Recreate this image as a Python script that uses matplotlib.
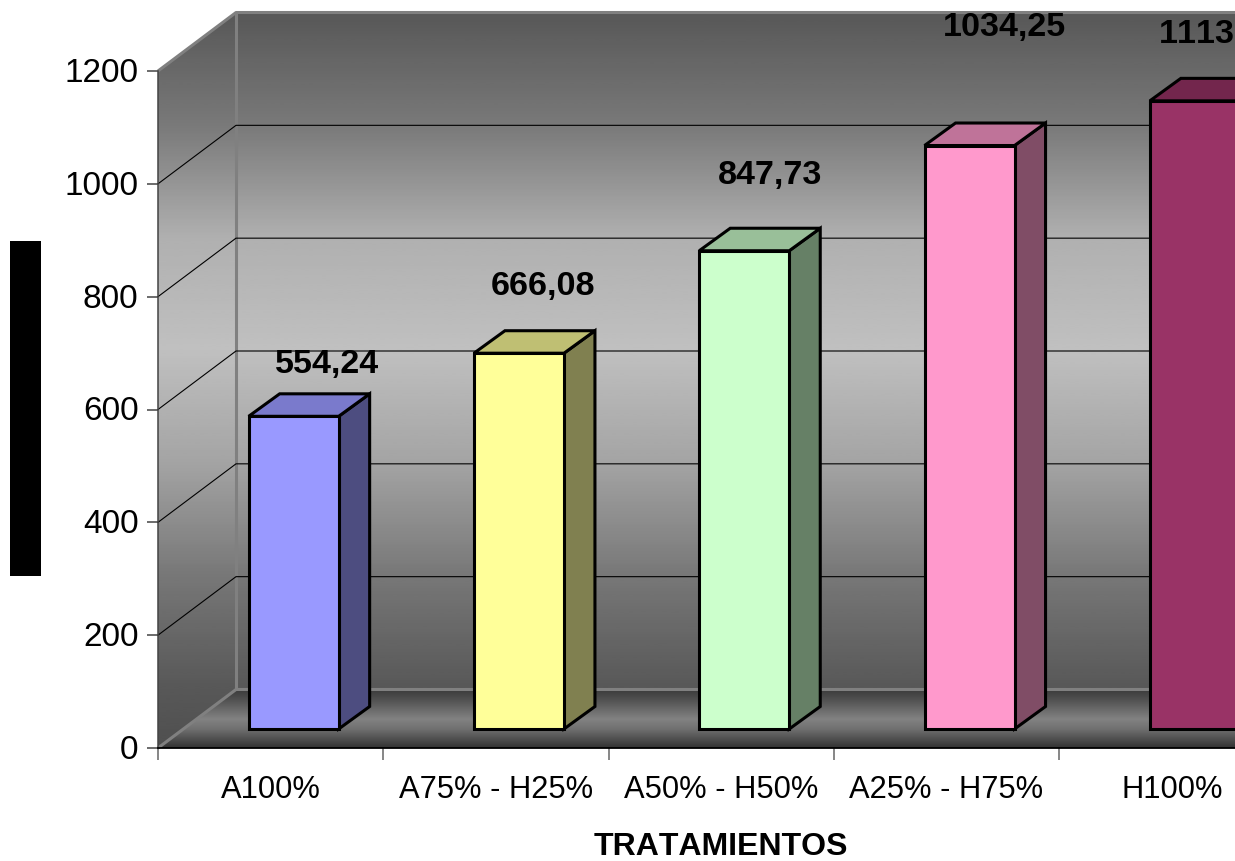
import numpy as np
import matplotlib
matplotlib.use("Agg")
import matplotlib.pyplot as plt
from matplotlib.patches import Polygon, Rectangle
from matplotlib.transforms import ScaledTranslation

plt.rcParams["font.family"] = ["Liberation Sans", "DejaVu Sans"]
plt.rcParams["text.kerning_factor"] = 6

categories = ["A100%", "A75% - H25%", "A50% - H50%", "A25% - H75%", "H100%"]
values = [554.24, 666.08, 847.73, 1034.25, 1113.40]
front_colors = ["#9999FF", "#FFFF99", "#CCFFCC", "#FF99CC", "#993366"]
top_colors = ["#7A7ACC", "#BFBF73", "#99BF99", "#BF7399", "#73264D"]
side_colors = ["#4D4D80", "#808050", "#668066", "#804D66", "#4D1933"]
y_ticks = [0, 200, 400, 600, 800, 1000, 1200]

# layout in pixels
W, H = 1235, 862
LEFT, BASE, TOP = 158, 749, 72
CAT_PX = 225.3
PX_Y = (BASE - TOP) / 1200.0
WALL_DX, WALL_DY = 78 / CAT_PX, 58.5 / PX_Y      # depth of the box
BAR_LIFT_X, BAR_LIFT_Y = 23 / CAT_PX, 19 / PX_Y  # bar offset from the front plane
BAR_DX, BAR_DY = 31 / CAT_PX, 22.5 / PX_Y        # depth of a bar
BAR_W = 90 / CAT_PX
XMAX = (W - LEFT) / CAT_PX
label_dx = [33, 24, 26, 35, 26]
label_dy = [53, 68, 76, 119, 67]


def ramp(ax, stops, px_top, px_bot, clip):
    # vertical grey gradient clipped to a polygon
    rows = np.linspace(px_top, px_bot, 256)
    greys = np.interp(rows, [s[0] for s in stops], [s[1] for s in stops]) / 255.0
    img = ax.imshow(greys[:, None], cmap="gray", vmin=0, vmax=1, aspect="auto", zorder=1,
                    extent=[0, XMAX, (BASE - px_bot) / PX_Y, (BASE - px_top) / PX_Y],
                    interpolation="bilinear")
    ax.add_patch(clip)
    img.set_clip_path(clip)
    img.set_clip_box(fig.bbox)


fig = plt.figure(figsize=(W / 100, H / 100), dpi=100, facecolor="white")
ax = fig.add_axes([LEFT / W, (H - BASE) / H, (W - LEFT) / W, (BASE - TOP) / H])

wall_top = 1200 + WALL_DY
wall_stops = [(13, 0x58), (127, 0x7A), (238, 0xB0), (350, 0xC0), (464, 0xA4),
              (576, 0x78), (690, 0x58), (749, 0x50)]
floor_stops = [(691, 0x3C), (700, 0x50), (720, 0x82), (730, 0x70), (749, 0x32)]
ramp(ax, wall_stops, 13, 749,
     Polygon([(0, 0), (WALL_DX, WALL_DY), (XMAX, WALL_DY), (XMAX, wall_top), (WALL_DX, wall_top), (0, 1200)],
             closed=True, fc="none", ec="none"))
ramp(ax, floor_stops, 691, 749,
     Polygon([(0, 0), (WALL_DX, WALL_DY), (XMAX, WALL_DY), (XMAX, 0)], closed=True, fc="none", ec="none"))

# box edges
edge = dict(color="#808080", lw=2.2, zorder=2, clip_on=False, solid_capstyle="butt")
ax.plot([WALL_DX, WALL_DX], [WALL_DY, wall_top], **edge)
ax.plot([0, WALL_DX, XMAX], [1200, wall_top, wall_top], **edge)
ax.plot([0, WALL_DX, XMAX], [0, WALL_DY, WALL_DY], **edge)

# gridlines run along the left wall then the back wall
for v in y_ticks[1:-1]:
    ax.plot([0, WALL_DX, XMAX], [v, v + WALL_DY, v + WALL_DY], color="black", lw=0.8, zorder=3, clip_on=False)

for i, v in enumerate(values):
    x0 = i + 0.5 + BAR_LIFT_X - BAR_W / 2
    x1 = x0 + BAR_W
    y0 = BAR_LIFT_Y
    y1 = y0 + v
    z = 4 + i
    style = dict(ec="black", lw=2.2, joinstyle="miter", clip_on=False, zorder=z)
    ax.add_patch(Polygon([(x1, y0), (x1 + BAR_DX, y0 + BAR_DY), (x1 + BAR_DX, y1 + BAR_DY), (x1, y1)],
                         closed=True, fc=side_colors[i], **style))
    ax.add_patch(Polygon([(x0, y1), (x0 + BAR_DX, y1 + BAR_DY), (x1 + BAR_DX, y1 + BAR_DY), (x1, y1)],
                         closed=True, fc=top_colors[i], **style))
    ax.bar(x0, v, width=BAR_W, bottom=y0, align="edge", color=front_colors[i], **style)
    ax.annotate(f"{v:.2f}".replace(".", ","), xy=((x0 + x1) / 2, y1), xytext=(label_dx[i], label_dy[i]),
                textcoords="offset pixels", ha="center", va="center", fontsize=24.6, fontweight="bold",
                color="black", annotation_clip=False, zorder=20)

ax.set_xlim(0, XMAX)
ax.set_ylim(0, 1200)
ax.patch.set_visible(False)
for s in ["top", "right"]:
    ax.spines[s].set_visible(False)
ax.spines["left"].set_color("#444444")
ax.spines["left"].set_linewidth(1.1)
ax.spines["bottom"].set_color("black")
ax.spines["bottom"].set_linewidth(1.3)
ax.spines["left"].set_zorder(3)
ax.spines["bottom"].set_zorder(3)

ax.set_yticks(y_ticks)
ax.tick_params(axis="y", direction="out", length=8, width=1.1, color="#444444", labelsize=24, pad=6)
# value labels sit slightly above their tick marks
for lab in ax.get_yticklabels():
    lab.set_transform(lab.get_transform() + ScaledTranslation(0, 2 / 100, fig.dpi_scale_trans))
ax.set_xticks(range(5))
ax.set_xticklabels([])
ax.tick_params(axis="x", which="major", direction="out", length=8.6, width=1.1, color="#666666")
ax.set_xticks([i + 0.5 for i in range(5)], minor=True)
ax.set_xticklabels(categories, minor=True)
ax.tick_params(axis="x", which="minor", length=0, labelsize=22.2, pad=19)

ax.set_xlabel("TRATAMIENTOS", fontsize=23, fontweight="bold", va="center")
ax.xaxis.set_label_coords((721 - LEFT) / (W - LEFT), -(847 - BASE) / (BASE - TOP))

# y axis title block
fig.add_artist(Rectangle((10 / W, 1 - 577 / H), 31 / W, 335 / H, transform=fig.transFigure, fc="black", ec="none"))

fig.savefig("out.png", dpi=100)
